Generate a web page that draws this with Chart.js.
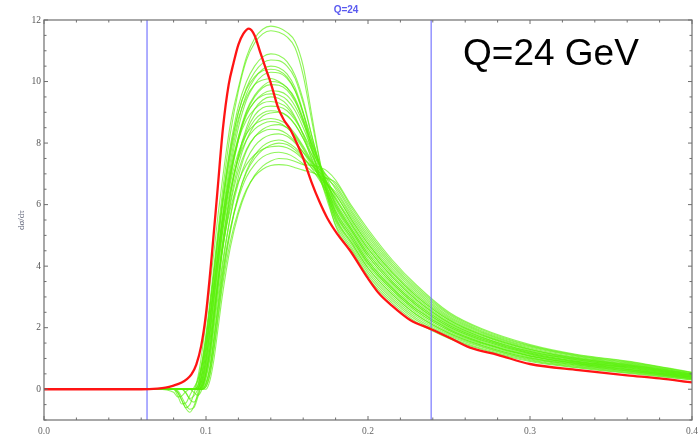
<!DOCTYPE html>
<html>
<head>
<meta charset="utf-8">
<title>Q=24</title>
<script src="https://cdn.jsdelivr.net/npm/chart.js@4.4.1/dist/chart.umd.min.js"></script>
<style>
  html, body { margin: 0; padding: 0; background: #fff; }
  canvas { display: block; }
</style>
</head>
<body>
<canvas id="chart" width="698" height="438"></canvas>
<script>
'use strict';

// axis ticks
var xTicks = [0, 0.1, 0.2, 0.3, 0.4];
var yTicks = [0, 2, 4, 6, 8, 10, 12];

// blue cut lines (tau)
var cutLines = [0.0636, 0.239];

// red curve
var redX = [0, 0.06, 0.07, 0.075, 0.08, 0.085, 0.088, 0.091, 0.094, 0.097, 0.1, 0.1035, 0.107, 0.1105, 0.114, 0.117, 0.12, 0.123, 0.1265, 0.13,
  0.1335, 0.137, 0.14, 0.1445, 0.148, 0.152, 0.156, 0.16, 0.165, 0.17, 0.175, 0.181, 0.189, 0.2, 0.207, 0.214, 0.226, 0.239, 0.25, 0.263,
  0.28, 0.3, 0.33, 0.36, 0.38, 0.4];
var redY = [0, 0, 0.02, 0.05, 0.12, 0.22, 0.32, 0.48, 0.8, 1.4, 2.45, 4.3, 6.4, 8.5, 9.9, 10.6, 11.2, 11.55, 11.72, 11.5,
  10.95, 10.4, 9.95, 9.15, 8.76, 8.45, 8.0, 7.5, 6.75, 6.1, 5.55, 5.05, 4.5, 3.6, 3.1, 2.75, 2.25, 1.95, 1.68, 1.35,
  1.12, 0.82, 0.62, 0.45, 0.35, 0.22];

// green curves, all on the same tau grid
var gX = [0, 0.07, 0.08, 0.0825, 0.085, 0.0875, 0.09, 0.0925, 0.095, 0.0975,
  0.1, 0.1025, 0.105, 0.1075, 0.11, 0.115, 0.12, 0.125, 0.13, 0.135, 0.14, 0.145, 0.15, 0.155, 0.16, 0.165, 0.17, 0.175, 0.18,
  0.19, 0.2, 0.215, 0.23, 0.25, 0.27, 0.3, 0.33, 0.36, 0.4];

var g01 = [0,0,0,0,0,0,0,0,0.4,1.2, 2.25,3.4,4.5,5.7,6.75,8.6,9.8,10.8,11.4,11.7,11.8,11.75,11.6,11.3,10.5,9.0,7.5,6.25,5.3, 4.45,3.62,2.8,2.18,1.65,1.3,0.9,0.69,0.52,0.3];
var g02 = [0,0,0,0,0,0,0,0,0.15,0.85, 1.8,2.9,4.05,5.2,6.35,8.3,9.7,10.7,11.25,11.55,11.65,11.6,11.45,11.1,10.2,8.8,7.45,6.3,5.45, 4.6,3.78,2.94,2.3,1.74,1.37,0.96,0.73,0.56,0.33];
var g03 = [0,0,0,0,0,0,0,0,0.1,0.75, 1.6,2.7,3.85,5.0,6.1,7.9,9.2,10.0,10.5,10.8,10.9,10.85,10.65,10.2,9.4,8.3,7.3,6.4,5.6, 4.75,3.94,3.08,2.42,1.82,1.43,1.01,0.78,0.6,0.35];
var g04 = [0,0,0,0,0,0,0,0,0.05,0.55, 1.4,2.4,3.6,4.75,5.9,7.7,9.0,9.8,10.3,10.6,10.7,10.68,10.5,10.1,9.3,8.3,7.35,6.55,5.8, 4.98,4.17,3.29,2.6,1.95,1.53,1.09,0.84,0.66,0.39];
var g05 = [0,0,0,-0.1,-0.35,-0.62,-0.75,-0.55,-0.1,0.55, 1.35,2.3,3.4,4.5,5.6,7.4,8.7,9.6,10.1,10.4,10.5,10.45,10.25,9.8,9.0,7.9,6.95,6.1,5.35, 4.53,3.7,2.87,2.24,1.69,1.33,0.93,0.71,0.54,0.31];
var g06 = [0,0,0,0,0,0,0,0,0,0.3, 1.0,2.0,3.15,4.3,5.4,7.2,8.5,9.4,9.9,10.2,10.3,10.28,10.1,9.7,9.0,8.15,7.35,6.65,5.95, 5.13,4.33,3.43,2.72,2.03,1.6,1.15,0.88,0.7,0.41];
var g07 = [0,0,0,-0.1,-0.35,-0.6,-0.5,-0.15,0.3,0.9, 1.7,2.7,3.8,4.9,5.9,7.6,8.8,9.5,9.9,10.05,10.1,10.0,9.8,9.4,8.7,7.8,6.95,6.2,5.5, 4.68,3.86,3.01,2.36,1.78,1.4,0.98,0.75,0.58,0.34];
var g08 = [0,0,0,0,0,0,0,0,0,0.15, 0.7,1.6,2.7,3.85,5.0,6.8,8.1,9.0,9.5,9.8,9.9,9.88,9.72,9.35,8.75,8.0,7.3,6.7,6.1, 5.28,4.49,3.57,2.84,2.12,1.67,1.2,0.93,0.74,0.44];
var g09 = [0,0,0,0,0,-0.1,-0.33,-0.42,-0.2,0.3, 1.0,1.95,3.05,4.15,5.2,6.9,8.1,8.9,9.35,9.6,9.7,9.68,9.55,9.2,8.65,8.0,7.35,6.8,6.25, 5.43,4.65,3.71,2.96,2.2,1.74,1.26,0.97,0.78,0.46];
var g10 = [0,0,0,0,0,0,0,0,0,0.03, 0.4,1.1,2.25,3.35,4.5,6.3,7.6,8.5,9.1,9.4,9.5,9.45,9.25,8.85,8.25,7.5,6.85,6.25,5.65, 4.83,4.02,3.15,2.48,1.86,1.47,1.04,0.8,0.62,0.36];
var g11 = [0,0,0,-0.2,-0.48,-0.45,-0.2,0.05,0.3,0.75, 1.45,2.4,3.45,4.5,5.45,7.0,8.1,8.75,9.1,9.3,9.35,9.3,9.15,8.8,8.3,7.65,7.05,6.45,5.88, 5.05,4.25,3.36,2.66,1.99,1.57,1.12,0.86,0.68,0.4];
var g12 = [0,0,0,0,0,0,0,0,0,0.08, 0.55,1.35,2.45,3.6,4.7,6.4,7.6,8.4,8.9,9.15,9.2,9.18,9.05,8.75,8.3,7.8,7.3,6.9,6.5, 5.65,4.88,3.92,3.14,2.33,1.84,1.34,1.03,0.84,0.5];
var g13 = [0,0,0,0,0,0,0,-0.1,-0.2,0, 0.5,1.2,2.2,3.3,4.4,6.1,7.3,8.1,8.6,8.88,8.98,9.0,8.9,8.6,8.15,7.55,6.95,6.35,5.72, 4.9,4.09,3.22,2.54,1.91,1.5,1.07,0.82,0.64,0.38];
var g14 = [0,0,0,0,0,0,0,0,0.02,0.45, 1.2,2.2,3.3,4.35,5.3,6.7,7.7,8.3,8.6,8.75,8.8,8.75,8.6,8.3,7.9,7.45,7.05,6.7,6.33, 5.5,4.73,3.78,3.02,2.25,1.77,1.29,0.99,0.8,0.48];
var g15 = [0,0,-0.1,-0.25,-0.22,-0.08,0,0,0,0, 0.2,0.75,1.7,2.8,3.9,5.6,6.9,7.75,8.2,8.45,8.57,8.6,8.5,8.25,7.85,7.4,6.95,6.5,6.03, 5.2,4.41,3.5,2.78,2.08,1.64,1.18,0.9,0.72,0.43];
var g16 = [0,0,0,0,0,0,0,0,0,0.08, 0.55,1.35,2.4,3.5,4.5,6.0,7.1,7.8,8.2,8.38,8.45,8.43,8.3,8.05,7.7,7.3,6.95,6.6,6.18, 5.35,4.57,3.64,2.9,2.16,1.7,1.23,0.95,0.76,0.45];
var g17 = [0,0,0,0,0,0,0,0,0,0, 0.35,1.0,2.0,3.05,4.05,5.6,6.7,7.45,7.9,8.15,8.27,8.3,8.22,8.0,7.7,7.4,7.15,6.92,6.65, 5.8,5.04,4.06,3.26,2.42,1.9,1.4,1.08,0.88,0.53];
var g18 = [0,0,0,0,0,0,0,0,0,0, 0.08,0.5,1.35,2.4,3.45,5.1,6.3,7.1,7.6,7.9,8.05,8.1,8.03,7.85,7.55,7.2,6.8,6.4,5.95, 5.13,4.33,3.43,2.72,2.03,1.6,1.15,0.88,0.7,0.41];
var g19 = [0,0,0,-0.05,-0.25,-0.5,-0.65,-0.6,-0.25,0.2, 0.75,1.6,2.6,3.6,4.5,5.85,6.75,7.3,7.62,7.8,7.88,7.9,7.85,7.7,7.48,7.28,7.05,6.82,6.57, 5.73,4.96,3.99,3.2,2.37,1.87,1.37,1.06,0.86,0.51];
var g20 = [0,0,0,0,0,0,0,0,0,0, 0.2,0.75,1.7,2.7,3.7,5.2,6.2,6.9,7.3,7.55,7.67,7.7,7.65,7.52,7.32,7.1,6.88,6.65,6.41, 5.58,4.81,3.85,3.08,2.29,1.8,1.31,1.01,0.82,0.49];
var g21 = [0,0,0,0,0,0,0,0,0,0, 0,0.3,1.0,2.0,3.0,4.6,5.7,6.45,6.95,7.25,7.42,7.5,7.48,7.4,7.3,7.28,7.22,7.08,6.8, 5.95,5.2,4.2,3.38,2.5,1.97,1.45,1.12,0.92,0.55];
var g22 = [0,0,0,0,0,0,0,0,0,0, 0.08,0.5,1.3,2.3,3.3,4.8,5.8,6.5,6.92,7.15,7.27,7.3,7.28,7.2,7.12,7.05,6.95,6.85,6.72, 5.88,5.12,4.13,3.32,2.46,1.94,1.42,1.1,0.9,0.54];
var g23 = [0,0,0,0,0,0,0,0,0,0.15, 0.85,1.8,2.9,4.05,5.2,6.95,8.2,9.05,9.55,9.85,10.0,9.97,9.8,9.45,8.8,7.95,7.15,6.35,5.56, 4.75,3.94,3.08,2.42,1.82,1.43,1.01,0.78,0.6,0.35];
var g24 = [0,0,0,0,0,0,0,0,0,0.08, 0.55,1.35,2.45,3.55,4.65,6.3,7.5,8.3,8.75,8.98,9.05,9.02,8.88,8.6,8.15,7.65,7.15,6.65,6.18, 5.35,4.57,3.64,2.9,2.16,1.7,1.23,0.95,0.76,0.45];
var g25 = [0,0,0,0,0,-0.12,-0.3,-0.22,0,0.3, 0.95,1.9,3.0,4.1,5.05,6.5,7.5,8.1,8.45,8.63,8.7,8.66,8.5,8.2,7.8,7.35,6.9,6.35,5.79, 4.98,4.17,3.29,2.6,1.95,1.53,1.09,0.84,0.66,0.39];
var g26 = [0,0,0,0,0,0,0,0,0,0, 0.15,0.65,1.55,2.6,3.6,5.2,6.3,7.05,7.5,7.78,7.94,8.0,7.95,7.78,7.52,7.22,6.95,6.65,6.34, 5.5,4.73,3.78,3.02,2.25,1.77,1.29,0.99,0.8,0.48];
var g27 = [0,0,0,0,0,0,0,0,0.02,0.45, 1.2,2.25,3.35,4.45,5.5,7.1,8.2,8.95,9.35,9.55,9.6,9.56,9.4,9.05,8.5,7.85,7.25,6.65,6.03, 5.2,4.41,3.5,2.78,2.08,1.64,1.18,0.9,0.72,0.43];
var g28 = [0,0,0,0,0,0,0,0,0.1,0.75, 1.6,2.7,3.85,5.0,6.05,7.8,9.0,9.75,10.15,10.35,10.4,10.35,10.15,9.7,8.95,8.1,7.3,6.5,5.72, 4.9,4.09,3.22,2.54,1.91,1.5,1.07,0.82,0.64,0.38];

var greenCurves = [g01, g02, g03, g04, g05, g06, g07, g08, g09, g10, g11, g12, g13, g14,
  g15, g16, g17, g18, g19, g20, g21, g22, g23, g24, g25, g26, g27, g28];

function toPoints(xs, ys) {
  var pts = [];
  for (var i = 0; i < xs.length; i++) {
    pts.push({x: xs[i], y: ys[i]});
  }
  return pts;
}

var datasets = [];
// red first so it is drawn on top
datasets.push({
  data: toPoints(redX, redY),
  borderColor: '#ff1414',
  borderWidth: 2.3,
  pointRadius: 0,
  cubicInterpolationMode: 'monotone'
});
for (var c = 0; c < cutLines.length; c++) {
  datasets.push({
    data: [{x: cutLines[c], y: -1}, {x: cutLines[c], y: 12}],
    borderColor: 'rgba(110, 110, 255, 0.8)',
    borderWidth: 1.4,
    pointRadius: 0
  });
}
for (var g = 0; g < greenCurves.length; g++) {
  datasets.push({
    data: toPoints(gX, greenCurves[g]),
    borderColor: 'rgba(90, 240, 10, 0.68)',
    borderWidth: 1.1,
    pointRadius: 0,
    cubicInterpolationMode: 'monotone'
  });
}

// frame with inward ticks on all four sides
var framePlugin = {
  id: 'frame',
  afterDatasetsDraw: function (chart) {
    var ctx = chart.ctx;
    var a = chart.chartArea;
    var xs = chart.scales.x;
    var ys = chart.scales.y;
    ctx.save();
    ctx.strokeStyle = '#6e6e6e';
    ctx.lineWidth = 1.2;
    ctx.strokeRect(a.left, a.top, a.right - a.left, a.bottom - a.top);
    ctx.lineWidth = 1;
    ctx.beginPath();
    for (var i = 0; i <= 20; i++) {
      var px = xs.getPixelForValue(i * 0.02);
      var len = (i % 5 === 0) ? 4 : 2.5;
      ctx.moveTo(px, a.bottom);
      ctx.lineTo(px, a.bottom - len);
      ctx.moveTo(px, a.top);
      ctx.lineTo(px, a.top + len);
    }
    for (var j = 0; j <= 26; j++) {
      var v = -1 + j * 0.5;
      var py = ys.getPixelForValue(v);
      var l2 = (v % 2 === 0) ? 4 : 2.5;
      ctx.moveTo(a.left, py);
      ctx.lineTo(a.left + l2, py);
      ctx.moveTo(a.right, py);
      ctx.lineTo(a.right - l2, py);
    }
    ctx.stroke();
    ctx.restore();
  },
  afterDraw: function (chart) {
    var ctx = chart.ctx;
    ctx.save();
    ctx.fillStyle = '#000';
    ctx.font = '37px "Liberation Sans", Arial, sans-serif';
    ctx.textBaseline = 'alphabetic';
    ctx.fillText('Q=24 GeV', 463, 65);
    ctx.restore();
  }
};

var tickFont = {family: '"Liberation Serif", "DejaVu Serif", serif', size: 9.5};

new Chart(document.getElementById('chart'), {
  type: 'line',
  data: {datasets: datasets},
  plugins: [framePlugin],
  options: {
    responsive: false,
    animation: false,
    events: [],
    layout: {padding: {top: 0, right: 6, bottom: 0, left: 0}},
    plugins: {
      legend: {display: false},
      tooltip: {enabled: false},
      title: {
        display: true,
        text: 'Q=24',
        color: '#5a5af0',
        font: {family: '"Liberation Sans", Arial, sans-serif', size: 10, weight: 'bold'},
        padding: {top: 4, bottom: 4}
      }
    },
    scales: {
      x: {
        type: 'linear',
        min: 0,
        max: 0.4,
        grid: {display: false, drawTicks: false},
        border: {display: false},
        afterBuildTicks: function (scale) {
          scale.ticks = xTicks.map(function (v) { return {value: v}; });
        },
        afterFit: function (scale) {
          scale.height = 18;
          scale.paddingLeft = 0;
          scale.paddingRight = 0;
        },
        ticks: {
          color: '#666',
          font: tickFont,
          padding: 6,
          maxRotation: 0,
          callback: function (v) { return v.toFixed(1); }
        }
      },
      y: {
        type: 'linear',
        min: -1,
        max: 12,
        grid: {display: false, drawTicks: false},
        border: {display: false},
        afterBuildTicks: function (scale) {
          scale.ticks = yTicks.map(function (v) { return {value: v}; });
        },
        afterFit: function (scale) {
          scale.width = 44;
          scale.paddingTop = 0;
          scale.paddingBottom = 0;
        },
        ticks: {
          color: '#555',
          font: tickFont,
          padding: 3
        },
        title: {
          display: true,
          text: 'dσ/dτ',
          color: '#555a70',
          font: {family: '"Liberation Serif", "DejaVu Serif", serif', size: 9},
          padding: {top: 16, bottom: 0}
        }
      }
    }
  }
});
</script>
</body>
</html>
